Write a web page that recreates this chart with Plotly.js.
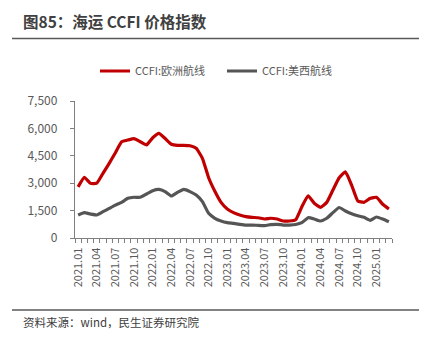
<!DOCTYPE html>
<html>
<head>
<meta charset="utf-8">
<script src="https://cdn.plot.ly/plotly-3.0.1.min.js"></script>
<style>html,body{margin:0;padding:0;background:#fff;}#chart{width:430px;height:341px;}</style>
</head>
<body>
<div id="chart"></div>
<script>
// Months 2021.01 - 2025.03
const months = [
  "2021.01","2021.02","2021.03","2021.04","2021.05","2021.06","2021.07","2021.08","2021.09","2021.10","2021.11","2021.12",
  "2022.01","2022.02","2022.03","2022.04","2022.05","2022.06","2022.07","2022.08","2022.09","2022.10","2022.11","2022.12",
  "2023.01","2023.02","2023.03","2023.04","2023.05","2023.06","2023.07","2023.08","2023.09","2023.10","2023.11","2023.12",
  "2024.01","2024.02","2024.03","2024.04","2024.05","2024.06","2024.07","2024.08","2024.09","2024.10","2024.11","2024.12",
  "2025.01","2025.02","2025.03"
];
const europe = [
  2800,3320,2990,3000,3540,4090,4670,5270,5365,5440,5270,5090,
  5490,5730,5450,5130,5070,5070,5050,4910,4360,3300,2560,1950,
  1590,1390,1260,1170,1130,1110,1040,1080,1040,930,930,1000,
  1710,2310,1900,1680,1950,2630,3300,3620,2900,2030,1950,2170,
  2230,1850,1590
];
const usWest = [
  1260,1385,1310,1260,1440,1620,1800,1950,2170,2230,2230,2410,
  2590,2660,2540,2300,2500,2660,2540,2350,1990,1350,1080,930,
  840,800,750,710,710,690,680,730,750,710,710,740,
  840,1110,1040,930,1080,1390,1670,1480,1330,1220,1130,970,
  1150,1040,890
];
const labelMonths = months.filter((m, i) => i % 3 === 0);
const names = ["CCFI:欧洲航线", "CCFI:美西航线"];
const yTicks = [0, 1500, 3000, 4500, 6000, 7500];

const idx = months.map((m, i) => i);
const FONT = "'Noto Sans CJK SC', 'Noto Sans', sans-serif";
const L = 75, R = 392, T = 101, B = 238;
const W = R - L, H = B - T;
const px = x => (x - L) / W;
const py = y => (B - y) / H;

const traces = [
  {x: idx, y: europe, name: names[0], type: 'scatter', mode: 'lines',
   line: {color: '#C00000', width: 3.2, shape: 'spline', smoothing: 0.4}},
  {x: idx, y: usWest, name: names[1], type: 'scatter', mode: 'lines',
   line: {color: '#555555', width: 3.2, shape: 'spline', smoothing: 0.4}}
];

const layout = {
  width: 430, height: 341,
  margin: {l: L, r: 430 - R, t: T, b: 341 - B, pad: 0},
  paper_bgcolor: '#ffffff', plot_bgcolor: '#ffffff',
  font: {family: FONT, color: '#595959', size: 11},
  showlegend: true,
  legend: {orientation: 'h', x: px(95), xanchor: 'left', y: py(71), yanchor: 'middle',
           font: {size: 11, color: '#595959', family: FONT}, itemwidth: 30, entrywidth: 82,
           tracegroupgap: 0, bgcolor: 'rgba(0,0,0,0)'},
  xaxis: {
    range: [-0.5, months.length - 0.5],
    tickmode: 'array',
    tickvals: idx.filter(i => i % 3 === 0),
    ticktext: labelMonths,
    tickangle: -90,
    ticks: '',
    ticklabelstandoff: 4,
    tickfont: {size: 11, color: '#595959', family: FONT},
    showline: true, linecolor: '#7f7f7f', linewidth: 1.2,
    showgrid: false, zeroline: false,
    minor: {tick0: -0.5, dtick: 1, ticks: 'outside', ticklen: 4, tickwidth: 1, tickcolor: '#7f7f7f', showgrid: false},
    fixedrange: true
  },
  yaxis: {
    range: [0, 7500],
    tickmode: 'array',
    tickvals: yTicks,
    ticktext: yTicks.map(v => v.toLocaleString('en-US')),
    ticks: 'outside', ticklen: 4, tickwidth: 1, tickcolor: '#7f7f7f',
    ticklabelstandoff: 10,
    tickfont: {size: 12, color: '#595959', family: FONT},
    showline: true, linecolor: '#7f7f7f', linewidth: 1.2,
    showgrid: false, zeroline: false,
    fixedrange: true
  },
  shapes: [
    {type: 'line', xref: 'paper', yref: 'paper', x0: px(12), x1: px(419), y0: py(38.5), y1: py(38.5),
     line: {color: '#595959', width: 1.5}},
    {type: 'line', xref: 'paper', yref: 'paper', x0: px(12), x1: px(419), y0: py(310), y1: py(310),
     line: {color: '#595959', width: 1.5}}
  ],
  annotations: [
    {xref: 'paper', yref: 'paper', x: px(21), y: py(21), xanchor: 'left', yanchor: 'middle',
     text: '<b>图85：海运 CCFI 价格指数</b>', showarrow: false,
     font: {size: 15.5, color: '#404040', family: FONT}},
    {xref: 'paper', yref: 'paper', x: px(21), y: py(322), xanchor: 'left', yanchor: 'middle',
     text: '资料来源：wind，民生证券研究院', showarrow: false,
     font: {size: 11.5, color: '#404040', family: FONT}}
  ]
};

Plotly.newPlot('chart', traces, layout, {displayModeBar: false, staticPlot: true});
</script>
</body>
</html>
